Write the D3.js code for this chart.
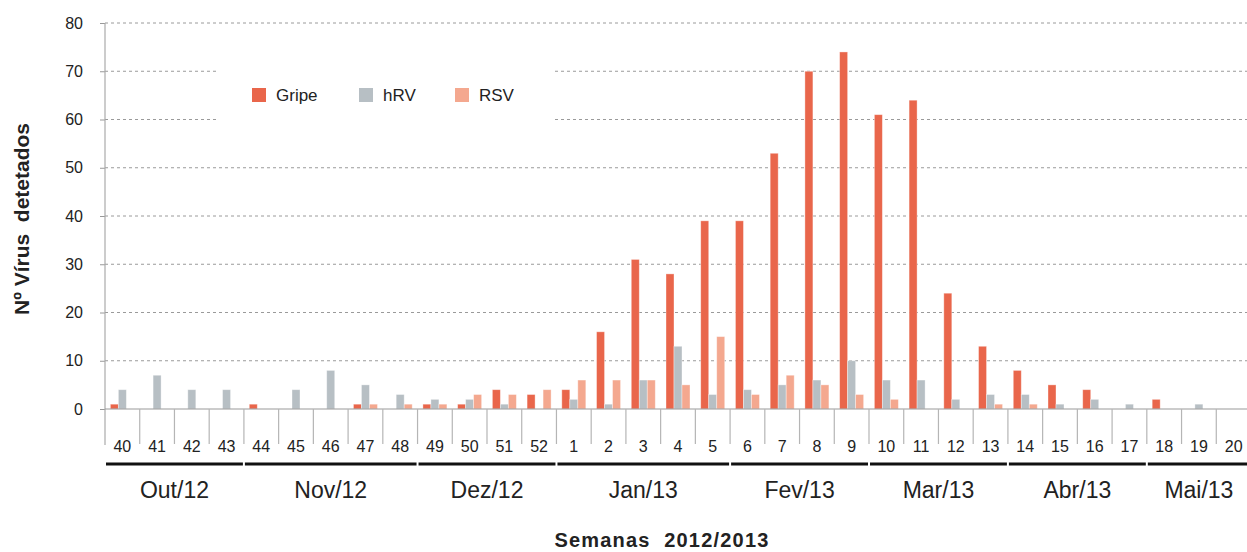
<!DOCTYPE html>
<html>
<head>
<meta charset="utf-8">
<script src="https://cdn.jsdelivr.net/npm/d3@7"></script>
<style>
  body { margin: 0; background: #fff; }
  svg { display: block; font-family: "Liberation Sans", Arial, sans-serif; }
</style>
</head>
<body>
<svg id="chart" width="1247" height="552"></svg>
<script>
// Weekly virus detections, season 2012/2013
const weeks = ['40','41','42','43','44','45','46','47','48','49','50','51','52',
  '1','2','3','4','5','6','7','8','9','10','11','12','13','14','15','16','17','18','19','20'];
const gripe = [1,0,0,0,1,0,0,1,0,1,1,4,3, 4,16,31,28,39,39,53,70,74,61,64,24,13,8,5,4,0,2,0,0];
const hrv   = [4,7,4,4,0,4,8,5,3,2,2,1,0, 2,1,6,13,3,4,5,6,10,6,6,2,3,3,1,2,1,0,1,0];
const rsv   = [0,0,0,0,0,0,0,1,1,1,3,3,4, 6,6,6,5,15,3,7,5,3,2,0,0,1,1,0,0,0,0,0,0];
const yTicks = [0,10,20,30,40,50,60,70,80];
// month label, first week, last week
const months = [
  ['Out/12','40','43'], ['Nov/12','44','48'], ['Dez/12','49','52'], ['Jan/13','1','5'],
  ['Fev/13','6','9'], ['Mar/13','10','13'], ['Abr/13','14','17'], ['Mai/13','18','20']
];
const seriesNames = ['Gripe','hRV','RSV'];
const colors = ['#e9664b','#b7bfc4','#f4a88f'];

const svg = d3.select('#chart');
const plotLeft = 105, plotRight = 1251, plotTop = 23, plotBottom = 409;

const x = d3.scaleBand().domain(weeks).range([plotLeft, plotRight]).paddingInner(0).paddingOuter(0);
const x1 = d3.scaleBand().domain(seriesNames).range([0, 24]).padding(0);
const groupOffset = (x.bandwidth() - 24) / 2;
const y = d3.scaleLinear().domain([0, 80]).range([plotBottom, plotTop]);

// gridlines
svg.append('g').selectAll('line').data(yTicks.filter(d => d > 0)).join('line')
  .attr('x1', plotLeft).attr('x2', 1247)
  .attr('y1', d => y(d)).attr('y2', d => y(d))
  .attr('stroke', '#9a9a9a').attr('stroke-width', 1).attr('stroke-dasharray', '3,3');

// y axis
const yAxis = d3.axisLeft(y).tickValues(yTicks).tickSize(5).tickPadding(17);
const gy = svg.append('g').attr('transform', `translate(${plotLeft},0)`).call(yAxis);
gy.select('.domain').remove();
gy.selectAll('.tick line').attr('stroke', '#999');
gy.selectAll('.tick text').attr('font-size', 16).attr('fill', '#222')
  .attr('font-family', '"Liberation Sans", Arial, sans-serif');
svg.append('line').attr('x1', plotLeft).attr('x2', plotLeft).attr('y1', plotTop).attr('y2', 445)
  .attr('stroke', '#aaa').attr('stroke-width', 1.2);

// legend box (white background hides gridlines)
const lg = svg.append('g');
lg.append('rect').attr('x', 218).attr('y', 62).attr('width', 334).attr('height', 64).attr('fill', '#fff');
const legendX = [252, 359, 455];
seriesNames.forEach((n, i) => {
  lg.append('rect').attr('x', legendX[i]).attr('y', 88).attr('width', 14).attr('height', 14).attr('fill', colors[i]);
  lg.append('text').attr('x', legendX[i] + 24).attr('y', 101).attr('font-size', 17).attr('fill', '#222').text(n);
});

// bars
const series = [gripe, hrv, rsv];
series.forEach((vals, si) => {
  svg.append('g').selectAll('rect').data(vals.map((v, i) => ({ w: weeks[i], v }))).join('rect')
    .attr('x', d => x(d.w) + groupOffset + x1(seriesNames[si]))
    .attr('width', x1.bandwidth())
    .attr('y', d => y(d.v))
    .attr('height', d => plotBottom - y(d.v))
    .attr('fill', colors[si])
    .attr('stroke', d => d.v > 0 ? 'rgba(255,255,255,0.45)' : 'none')
    .attr('stroke-width', 0.8);
});

// baseline
svg.append('line').attr('x1', plotLeft).attr('x2', 1247).attr('y1', plotBottom).attr('y2', plotBottom)
  .attr('stroke', '#999').attr('stroke-width', 1.2);

// week separators and labels
const gx = svg.append('g');
gx.selectAll('line').data(weeks.slice(1)).join('line')
  .attr('x1', d => x(d)).attr('x2', d => x(d))
  .attr('y1', plotBottom).attr('y2', 444)
  .attr('stroke', '#b5b5b5').attr('stroke-width', 1.2);
gx.selectAll('text').data(weeks).join('text')
  .attr('x', d => x(d) + x.bandwidth() / 2).attr('y', 452)
  .attr('text-anchor', 'middle').attr('font-size', 16).attr('fill', '#222')
  .text(d => d);

// month groups
const mg = svg.append('g');
months.forEach(([label, a, b]) => {
  const x0 = x(a) + 1, xe = Math.min(x(b) + x.bandwidth() - 1, 1247);
  mg.append('line').attr('x1', x0).attr('x2', xe).attr('y1', 464).attr('y2', 464)
    .attr('stroke', '#111').attr('stroke-width', 3);
  mg.append('text').attr('x', (x(a) + x(b) + x.bandwidth()) / 2).attr('y', 498)
    .attr('text-anchor', 'middle').attr('font-size', 23).attr('fill', '#222').text(label);
});

// axis titles
svg.append('text').attr('transform', 'translate(29,219) rotate(-90)')
  .attr('text-anchor', 'middle').attr('font-size', 21).attr('font-weight', 'bold').attr('fill', '#222')
  .attr('xml:space', 'preserve').text('Nº Vírus  detetados');
svg.append('text').attr('x', 662).attr('y', 547)
  .attr('text-anchor', 'middle').attr('font-size', 20).attr('font-weight', 'bold').attr('fill', '#222')
  .attr('letter-spacing', 1.2)
  .attr('xml:space', 'preserve').text('Semanas  2012/2013');
</script>
</body>
</html>
